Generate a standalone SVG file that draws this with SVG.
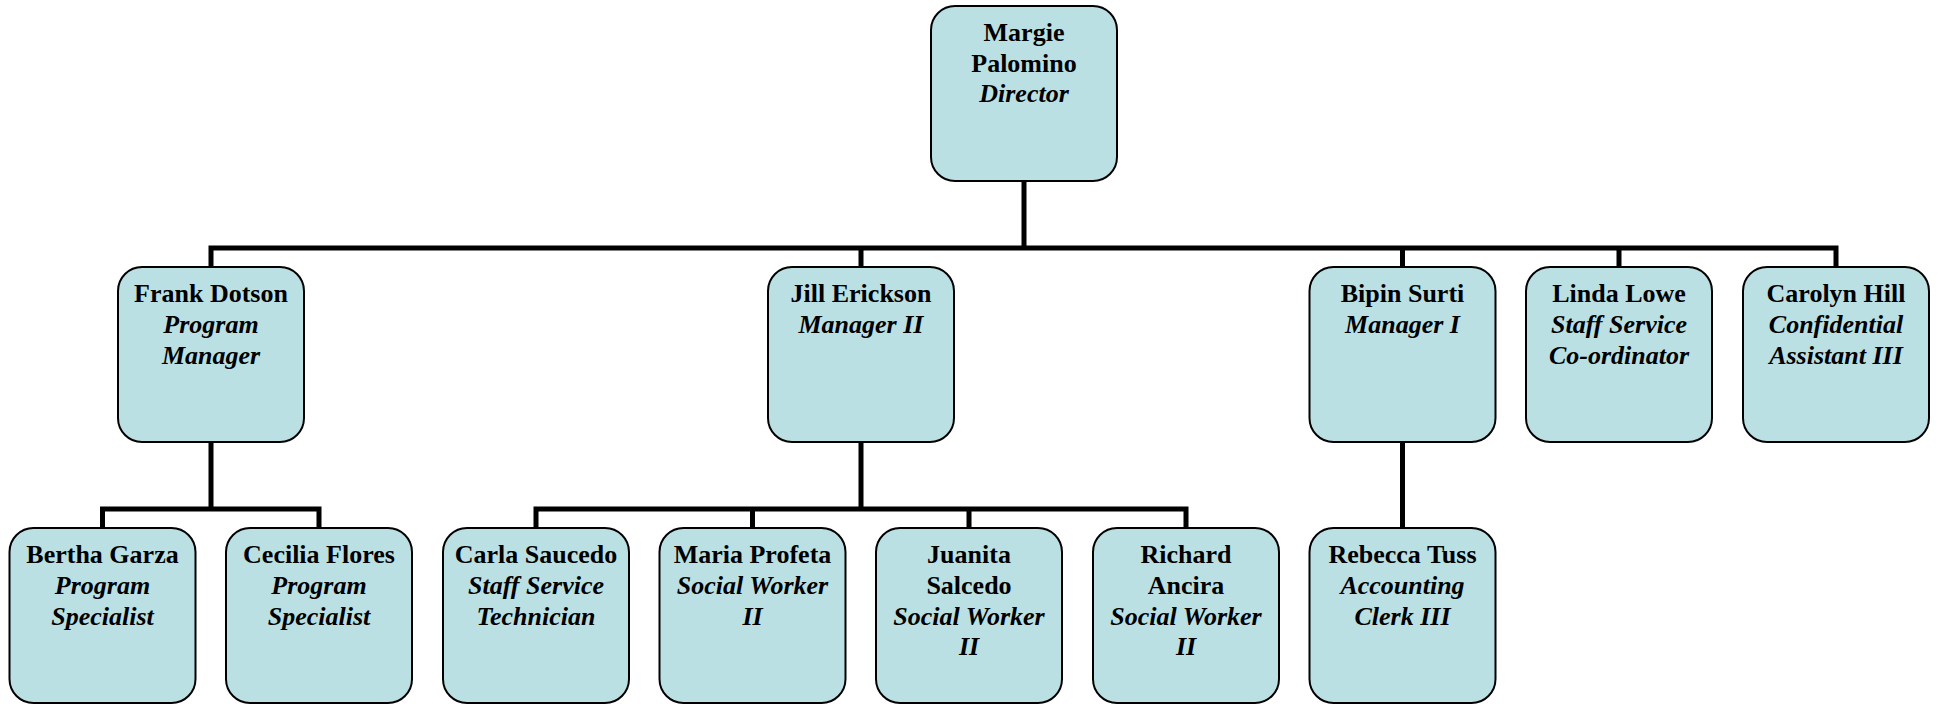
<svg xmlns="http://www.w3.org/2000/svg" width="1940" height="704" viewBox="0 0 1940 704">
<style>
.box{fill:#bae0e3;stroke:#000;stroke-width:2}
text{font-family:"Liberation Serif","Times New Roman",serif;font-size:26px;fill:#000;text-anchor:middle}
.n{font-weight:bold}
.t{font-weight:bold;font-style:italic}
.c{fill:none;stroke:#000;stroke-width:5;stroke-linecap:square}
</style>
<rect width="1940" height="704" fill="#fff"/>
<g id="connectors">
<path class="c" d="M1024 182V248M211 248H1836M211 248V266M861 248V266M1402.5 248V266M1619 248V266M1836 248V266"/>
<path class="c" d="M211 443V509M102.5 509H319M102.5 509V527M319 509V527"/>
<path class="c" d="M861 443V509M536 509H1186M536 509V527M752.5 509V527M969 509V527M1186 509V527"/>
<path class="c" d="M1402.5 443V527"/>
</g>
<g id="margie"><rect class="box" x="931" y="6" width="186" height="175" rx="24"/>
<text x="1024" y="41"><tspan class="n">Margie</tspan><tspan class="n" x="1024" dy="30.5">Palomino</tspan><tspan class="t" x="1024" dy="30.5">Director</tspan></text></g>
<g id="frank"><rect class="box" x="118" y="267" width="186" height="175" rx="24"/>
<text x="211" y="302"><tspan class="n">Frank Dotson</tspan><tspan class="t" x="211" dy="30.8">Program</tspan><tspan class="t" x="211" dy="30.8">Manager</tspan></text></g>
<g id="jill"><rect class="box" x="768" y="267" width="186" height="175" rx="24"/>
<text x="861" y="302"><tspan class="n">Jill Erickson</tspan><tspan class="t" x="861" dy="30.8">Manager II</tspan></text></g>
<g id="bipin"><rect class="box" x="1309.5" y="267" width="186" height="175" rx="24"/>
<text x="1402.5" y="302"><tspan class="n">Bipin Surti</tspan><tspan class="t" x="1402.5" dy="30.8">Manager I</tspan></text></g>
<g id="linda"><rect class="box" x="1526" y="267" width="186" height="175" rx="24"/>
<text x="1619" y="302"><tspan class="n">Linda Lowe</tspan><tspan class="t" x="1619" dy="30.8">Staff Service</tspan><tspan class="t" x="1619" dy="30.8">Co-ordinator</tspan></text></g>
<g id="carolyn"><rect class="box" x="1743" y="267" width="186" height="175" rx="24"/>
<text x="1836" y="302"><tspan class="n">Carolyn Hill</tspan><tspan class="t" x="1836" dy="30.8">Confidential</tspan><tspan class="t" x="1836" dy="30.8">Assistant III</tspan></text></g>
<g id="bertha"><rect class="box" x="9.5" y="528" width="186" height="175" rx="24"/>
<text x="102.5" y="563"><tspan class="n">Bertha Garza</tspan><tspan class="t" x="102.5" dy="30.8">Program</tspan><tspan class="t" x="102.5" dy="30.8">Specialist</tspan></text></g>
<g id="cecilia"><rect class="box" x="226" y="528" width="186" height="175" rx="24"/>
<text x="319" y="563"><tspan class="n">Cecilia Flores</tspan><tspan class="t" x="319" dy="30.8">Program</tspan><tspan class="t" x="319" dy="30.8">Specialist</tspan></text></g>
<g id="carla"><rect class="box" x="443" y="528" width="186" height="175" rx="24"/>
<text x="536" y="563"><tspan class="n">Carla Saucedo</tspan><tspan class="t" x="536" dy="30.8">Staff Service</tspan><tspan class="t" x="536" dy="30.8">Technician</tspan></text></g>
<g id="maria"><rect class="box" x="659.5" y="528" width="186" height="175" rx="24"/>
<text x="752.5" y="563"><tspan class="n">Maria Profeta</tspan><tspan class="t" x="752.5" dy="30.8">Social Worker</tspan><tspan class="t" x="752.5" dy="30.8">II</tspan></text></g>
<g id="juanita"><rect class="box" x="876" y="528" width="186" height="175" rx="24"/>
<text x="969" y="563"><tspan class="n">Juanita</tspan><tspan class="n" x="969" dy="30.8">Salcedo</tspan><tspan class="t" x="969" dy="30.8">Social Worker</tspan><tspan class="t" x="969" dy="30.8">II</tspan></text></g>
<g id="richard"><rect class="box" x="1093" y="528" width="186" height="175" rx="24"/>
<text x="1186" y="563"><tspan class="n">Richard</tspan><tspan class="n" x="1186" dy="30.8">Ancira</tspan><tspan class="t" x="1186" dy="30.8">Social Worker</tspan><tspan class="t" x="1186" dy="30.8">II</tspan></text></g>
<g id="rebecca"><rect class="box" x="1309.5" y="528" width="186" height="175" rx="24"/>
<text x="1402.5" y="563"><tspan class="n">Rebecca Tuss</tspan><tspan class="t" x="1402.5" dy="30.8">Accounting</tspan><tspan class="t" x="1402.5" dy="30.8">Clerk III</tspan></text></g>
</svg>
